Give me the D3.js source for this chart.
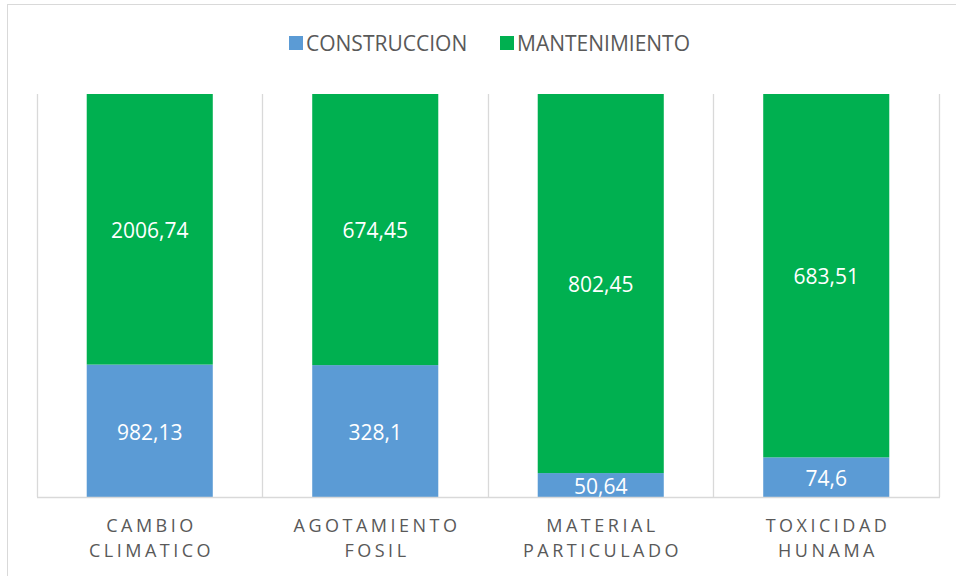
<!DOCTYPE html>
<html>
<head>
<meta charset="utf-8">
<script src="https://cdn.jsdelivr.net/npm/d3@7"></script>
<style>
  body { margin: 0; background: #fff; }
  svg { display: block; font-family: 'Open Sans', sans-serif; }
</style>
</head>
<body>
<svg width="956" height="576"></svg>
<script>
const categories = [['CAMBIO', 'CLIMATICO'], ['AGOTAMIENTO', 'FOSIL'], ['MATERIAL', 'PARTICULADO'], ['TOXICIDAD', 'HUNAMA']];
const construccion = [982.13, 328.1, 50.64, 74.6];
const mantenimiento = [2006.74, 674.45, 802.45, 683.51];
const seriesNames = ['CONSTRUCCION', 'MANTENIMIENTO'];
const seriesColors = ['#5B9BD5', '#00B050'];

const svg = d3.select('svg');

// chart frame (runs past the picture edge on the right and bottom)
svg.append('rect')
  .attr('x', 7.5).attr('y', 4.5)
  .attr('width', 970).attr('height', 590)
  .attr('fill', 'none').attr('stroke', '#D9D9D9');

const plotLeft = 37, plotRight = 939, plotTop = 94, plotBottom = 497;

const keys = categories.map(c => c.join(' '));
const rows = keys.map((k, i) => ({ key: k, CONSTRUCCION: construccion[i], MANTENIMIENTO: mantenimiento[i] }));
const stacked = d3.stack().keys(seriesNames).offset(d3.stackOffsetExpand)(rows);

const x = d3.scaleBand()
  .domain(keys)
  .range([plotLeft, plotRight])
  .paddingInner(0.441)
  .paddingOuter(0.2205);

const y = d3.scaleLinear().domain([0, 1]).range([plotBottom, plotTop]);

// vertical category gridlines
const bounds = keys.map(k => x(k) - x.step() * x.paddingInner() / 2).concat([plotRight]);
svg.append('g').selectAll('line')
  .data(bounds)
  .join('line')
  .attr('x1', d => Math.round(d) + 0.5).attr('x2', d => Math.round(d) + 0.5)
  .attr('y1', plotTop).attr('y2', plotBottom)
  .attr('stroke', '#D9D9D9').attr('stroke-width', 1.3);

const layers = svg.append('g').selectAll('g')
  .data(stacked)
  .join('g')
  .attr('fill', (d, i) => seriesColors[i]);

layers.selectAll('rect')
  .data(d => d)
  .join('rect')
  .attr('x', d => x(d.data.key))
  .attr('width', x.bandwidth())
  .attr('y', d => y(d[1]))
  .attr('height', d => y(d[0]) - y(d[1]));

// value labels
layers.selectAll('text')
  .data((d, i) => d.map(v => ({ v, val: i === 0 ? construccion : mantenimiento })))
  .join('text')
  .attr('x', d => x(d.v.data.key) + x.bandwidth() / 2)
  .attr('y', d => (y(d.v[0]) + y(d.v[1])) / 2)
  .attr('dy', '0.42em')
  .attr('text-anchor', 'middle')
  .attr('fill', '#fff')
  .attr('font-size', 21)
  .text(d => {
    const idx = keys.indexOf(d.v.data.key);
    return String(d.val[idx]).replace('.', ',');
  });

// baseline
svg.append('line')
  .attr('x1', plotLeft).attr('x2', plotRight + 1)
  .attr('y1', plotBottom + 0.5).attr('y2', plotBottom + 0.5)
  .attr('stroke', '#D9D9D9').attr('stroke-width', 1.3);

// category labels
const catLabels = svg.append('g').selectAll('text')
  .data(categories)
  .join('text')
  .attr('text-anchor', 'middle')
  .attr('fill', '#595959')
  .attr('font-size', 18)
  .attr('letter-spacing', 3.5);

catLabels.selectAll('tspan')
  .data((d, i) => d.map(t => ({ t, k: keys[i] })))
  .join('tspan')
  .attr('x', d => x(d.k) + x.bandwidth() / 2 + 1.75)
  .attr('y', (d, j) => 532 + j * 25)
  .text(d => d.t);

// legend
const legendX = [289, 500];
const legend = svg.append('g').selectAll('g')
  .data(seriesNames)
  .join('g')
  .attr('transform', (d, i) => `translate(${legendX[i]}, 36)`);

legend.append('rect')
  .attr('width', 14).attr('height', 14)
  .attr('fill', (d, i) => seriesColors[i]);

legend.append('text')
  .attr('x', 17).attr('y', 14.5)
  .attr('fill', '#595959')
  .attr('font-size', 21)
  .text(d => d);
</script>
</body>
</html>
